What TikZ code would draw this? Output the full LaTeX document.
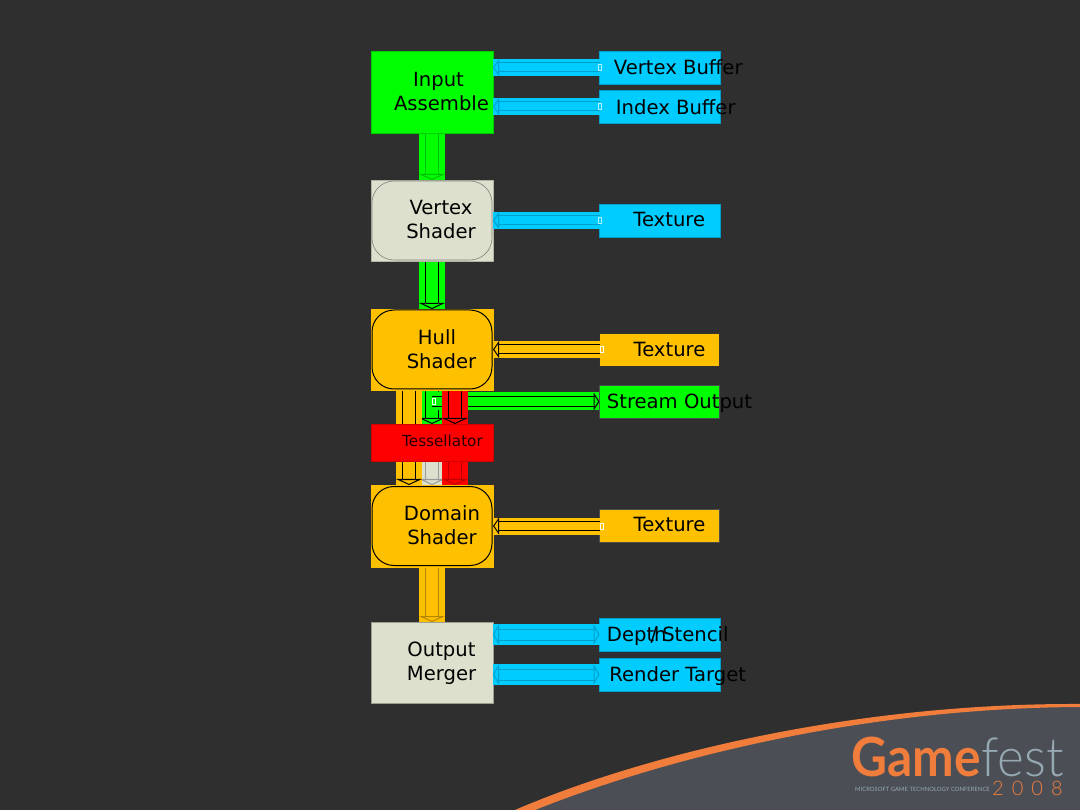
\documentclass[tikz,border=0pt]{standalone}
\usepackage{fontspec}
\setmainfont{DejaVu Sans}
\newfontfamily\logofont{Lato}
\newfontfamily\logolight{Lato Light}
\usetikzlibrary{arrows.meta, positioning, backgrounds}
\definecolor{slidedark}{RGB}{47,47,47}
\definecolor{swooshgrey}{RGB}{75,79,85}
\definecolor{swooshorange}{RGB}{240,125,60}
\definecolor{festgrey}{RGB}{150,168,178}
\definecolor{pipegreen}{RGB}{0,255,0}
\definecolor{pipelight}{RGB}{221,224,204}
\definecolor{pipeorange}{RGB}{255,192,0}
\definecolor{pipered}{RGB}{255,0,0}
\definecolor{pipeblue}{RGB}{0,204,255}
\definecolor{edgeblue}{RGB}{0,160,205}

\begin{document}
\begin{tikzpicture}[
    x=1pt, y=1pt,
    stage/.style={rectangle, draw, inner sep=0pt, outer sep=0pt, minimum width=122pt},
    shell/.style={rectangle, draw, line width=1pt, rounded corners=22pt, inner sep=0pt, outer sep=0pt, minimum width=120pt, minimum height=79pt},
    side/.style={rectangle, draw, inner sep=0pt, outer sep=0pt, minimum width=120.5pt, minimum height=33pt},
    caption/.style={inner sep=0pt, align=center, text=black, font=\fontsize{19.6}{24}\selectfont},
    flow/.style n args={3}{preaction={draw=#1, line width=2*#3+1pt, -}, draw=#2, line width=1pt, double=#1, double distance=#3,
        -{Triangle[open, fill=#1, length=6pt, width=2*#3+1pt, line width=1pt]}},
    twoway/.style n args={3}{preaction={draw=#1, line width=2*#3+1pt, -}, draw=#2, line width=1pt, double=#1, double distance=#3,
        {Triangle[open, fill=#1, length=6pt, width=2*#3+1pt, line width=1pt]}-{Triangle[open, fill=#1, length=6pt, width=2*#3+1pt, line width=1pt]}},
    handle/.style={draw=white, fill=none, line width=.7pt, inner sep=0pt, minimum width=3pt, minimum height=6pt}
]
\node[stage, fill=pipegreen, draw=pipegreen!80!black, minimum height=82pt] (input) at (432,-92) {};
\node[stage, fill=pipelight, draw=pipelight!80!black, minimum height=81pt, below=47pt of input] (vs) {};
\node[stage, fill=pipeorange, draw=pipeorange, minimum height=81pt, below=48pt of vs] (hull) {};
\node[stage, fill=pipered, draw=pipered!80!black, minimum height=37pt, below=34pt of hull] (tess) {};
\node[stage, fill=pipeorange, draw=pipeorange, minimum height=82pt, below=24pt of tess] (domain) {};
\node[stage, fill=pipelight, draw=pipelight!70!black, minimum height=81pt, below=55pt of domain] (om) {};

\node[shell, draw=black!50, line width=.6pt, at=(vs)] (vsshell) {};
\node[shell, draw=black, at=(hull)] (hullshell) {};
\node[shell, draw=black, at=(domain)] (domainshell) {};

\node[side, fill=pipeblue, draw=edgeblue, right=106.5pt of input.north east, anchor=north west] (vb) {};
\node[side, fill=pipeblue, draw=edgeblue, below=6pt of vb] (ib) {};
\node[side, fill=pipeblue, draw=edgeblue, right=106.5pt of vs] (vstex) {};
\node[side, fill=pipeorange, draw=black!80, minimum width=120pt, right=106.5pt of hull] (hulltex) {};
\node[side, fill=pipegreen, draw=black!70, minimum width=120pt, below=19pt of hulltex] (so) {};
\node[side, fill=pipeorange, draw=black!70, minimum width=120pt, right=106.5pt of domain] (domtex) {};
\node[side, fill=pipeblue, draw=edgeblue, right=106.5pt of om.north east, anchor=north west, yshift=4pt] (depth) {};
\node[side, fill=pipeblue, draw=edgeblue, below=7pt of depth] (rt) {};

\node[caption] (inputtxt) at ([xshift=9.5pt, yshift=1pt]input.center) {Input\kern6pt\\Assemble};
\node[caption] (vstxt) at ([xshift=9pt, yshift=1pt]vs.center) {Vertex\\Shader};
\node[caption] (hulltxt) at ([xshift=9.5pt]hull.center) {Hull\kern9pt\\Shader};
\node[caption, font=\fontsize{15.2}{18}\selectfont, text=black!85!pipered] (tesstxt) at ([xshift=10.5pt, yshift=1.5pt]tess.center) {Tessellator};
\node[caption] (domaintxt) at ([xshift=10pt, yshift=1pt]domain.center) {Domain\\Shader};
\node[caption] (omtxt) at ([xshift=9.5pt, yshift=-1pt]om.center) {Output\\Merger};
\node[caption] (vbtxt) at ([xshift=18.5pt]vb.center) {Vertex Buffer};
\node[caption] (ibtxt) at ([xshift=16pt, yshift=-1pt]ib.center) {Index Buffer};
\node[caption] (vstextxt) at ([xshift=9.5pt, yshift=1pt]vstex.center) {Texture};
\node[caption] (hulltextxt) at ([xshift=10pt]hulltex.center) {Texture};
\node[caption] (sotxt) at ([xshift=20pt, yshift=-2pt]so.center) {Stream Output};
\node[caption] (domtextxt) at ([xshift=10pt, yshift=1.5pt]domtex.center) {Texture};
\node[caption] (depthtxt) at ([xshift=8pt, yshift=-2pt]depth.center) {Depth\kern-16pt/\kern5pt Stencil};
\node[caption] (rttxt) at ([xshift=18pt, yshift=-2pt]rt.center) {Render Target};

\node[inner sep=0pt, anchor=base west, text=swooshorange, transform shape, xscale=.92, font=\logofont\bfseries\fontsize{54}{54}\selectfont] (game) at (851,-776) {Game};
\node[inner sep=0pt, anchor=base west, text=festgrey, transform shape, xscale=.95, font=\logolight\fontsize{54}{54}\selectfont] (fest) at (981,-776) {fest};
\node[inner sep=0pt, anchor=base west, text=festgrey, font=\logofont\fontsize{5.9}{8}\selectfont] (conf) at (855,-791) {MICROSOFT GAME TECHNOLOGY CONFERENCE};
\node[inner sep=0pt, anchor=base west, text=swooshorange, font=\logolight\fontsize{20}{20}\selectfont] (year) at (992,-795) {2\hspace{8pt}0\hspace{8pt}0\hspace{8pt}8};

\begin{scope}[on background layer]
\fill[slidedark] (0,0) rectangle (1080,-810);
\fill[swooshgrey] (515,-810) .. controls (650,-752) and (860,-705) .. (1080,-705) -- (1080,-810) -- cycle;
\fill[swooshorange] (515,-810) .. controls (650,-752) and (860,-703) .. (1080,-704) -- (1080,-707) .. controls (860,-708) and (660,-760) .. (535,-810) -- cycle;

\draw[flow={pipegreen}{green!75!black}{12.5pt}] (input) -- (vs);
\draw[flow={pipegreen}{black}{12.5pt}] (vs) -- (hull);
\draw[flow={pipegreen}{black}{12.5pt}] (hull) -- (tess);
\draw[flow={pipelight}{black!40}{12.5pt}] (tess) -- (domain);
\draw[flow={pipegreen}{black}{8.5pt}] (so.west -| hull) -- node[handle, pos=0, xshift=2pt] (sohandle) {} (so.west);
\draw[flow={pipeorange}{black}{12.5pt}] ([xshift=-23pt]hull.south) -- ([xshift=-23pt]domain.north);
\draw[flow={pipered}{black}{12.5pt}] ([xshift=23pt]hull.south) -- ([xshift=23pt]tess.north);
\draw[flow={pipered}{pipered!75!black}{12.5pt}] ([xshift=23pt]tess.south) -- ([xshift=23pt]domain.north);
\draw[flow={pipeorange}{pipeorange!70!black}{12.5pt}] (domain) -- (om);
\end{scope}

\draw[flow={pipeblue}{edgeblue}{8pt}] (vb.west) -- node[handle, pos=0, draw=white!70!pipeblue] (vbhandle) {} (input.east |- vb.west);
\draw[flow={pipeblue}{edgeblue}{8pt}] (ib.west) -- node[handle, pos=0, draw=white!70!pipeblue] (ibhandle) {} (input.east |- ib.west);
\draw[flow={pipeblue}{edgeblue}{8pt}] (vstex.west) -- node[handle, pos=0, draw=white!70!pipeblue] (vshandle) {} (vs.east |- vstex.west);
\draw[flow={pipeorange}{black}{8pt}] (hulltex.west) -- node[handle, pos=0, xshift=2pt] (hullhandle) {} (hull.east |- hulltex.west);
\draw[flow={pipeorange}{black}{8pt}] (domtex.west) -- node[handle, pos=0, xshift=2pt] (domhandle) {} (domain.east |- domtex.west);
\draw[twoway={pipeblue}{edgeblue}{10pt}] (depth.west) -- (om.east |- depth.west);
\draw[twoway={pipeblue}{edgeblue}{10pt}] (rt.west) -- (om.east |- rt.west);
\end{tikzpicture}
\end{document}
